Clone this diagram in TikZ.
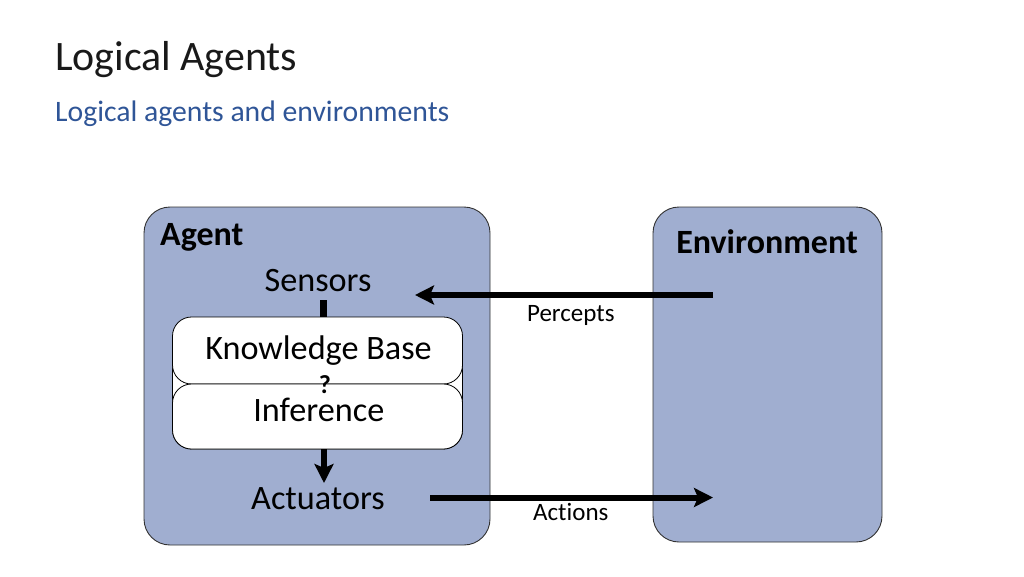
\documentclass[tikz,border=0pt]{standalone}
\usepackage{fontspec}
\setmainfont[Ligatures=NoCommon]{Carlito}
\usetikzlibrary{arrows.meta}
\definecolor{boxfill}{RGB}{160,174,208}
\definecolor{subblue}{RGB}{47,85,151}
\definecolor{edge}{RGB}{50,50,50}
\begin{document}
\begin{tikzpicture}[x=1pt,y=-1pt,
  panel/.style={draw=edge, line width=0.9pt, fill=boxfill, rounded corners=26pt, inner sep=0pt},
  kbox/.style={draw=black, line width=0.8pt, fill=white, rounded corners=19pt, inner sep=0pt, minimum width=290pt},
  lbl/.style={inner sep=0pt, anchor=base, font=\fontsize{34.2}{38}\selectfont},
  blbl/.style={inner sep=0pt, anchor=base, font=\fontsize{34}{38}\selectfont\bfseries},
  small/.style={inner sep=0pt, anchor=base, font=\fontsize{25}{28}\selectfont},
  flow/.style={line width=6pt, -{Stealth[length=19pt,width=19pt,inset=4pt]}},
  stub/.style={line width=6.5pt},
]
\useasboundingbox (0,0) rectangle (1024,576);
% titles
\node[inner sep=0pt, anchor=base west, font=\fontsize{41.9}{48}\selectfont, text=black!90] (title) at (55,70) {Logical Agents};
\node[inner sep=0pt, anchor=base west, font=\fontsize{29.7}{34}\selectfont, text=subblue] (subtitle) at (55,121) {Logical agents and environments};
% panels
\node[panel, minimum width=346pt, minimum height=338pt] (agent) at (317,376) {};
\node[panel, minimum width=229pt, minimum height=335pt] (env) at (767.5,374.5) {};
% back of the KB / inference stack
\node[kbox, minimum height=100pt] (stack) at (317.5,399) {};
\node[kbox, minimum height=67pt] (kb) at (317.5,350.5) {};
\node[kbox, minimum height=65pt] (inf) at (317.5,416.5) {};
% labels
\node[blbl, anchor=base west] (agentlbl) at (160,245) {Agent};
\node[blbl] (envlbl) at (767,253) {Environment};
\node[lbl] (sensors) at (318,291) {Sensors};
\node[lbl] (kblbl) at (318.5,359) {Knowledge Base};
\node[lbl] (inflbl) at (318.8,421.5) {Inference};
\node[lbl] (actuators) at (318,509) {Actuators};
\node[inner sep=0pt, anchor=base, font=\fontsize{26}{30}\selectfont\bfseries] (q) at (325,393) {?};
\node[small] (percepts) at (570.8,321.7) {Percepts};
\node[small] (actions) at (570.8,520) {Actions};
% connector end points
\coordinate (sensbot) at (323.5,300);
\coordinate (kbtop) at (323.5,317);
\coordinate (infbot) at (324,449);
\coordinate (acttop) at (324,483);
\coordinate (pin) at (713,295);
\coordinate (pout) at (415,295);
\coordinate (aout) at (430,497.5);
\coordinate (ain) at (713,497.5);
% connectors
\draw[stub] (sensbot) -- (kbtop);
\draw[flow] (infbot) -- (acttop);
\draw[flow] (pin) -- (pout);
\draw[flow] (aout) -- (ain);
\end{tikzpicture}
\end{document}
